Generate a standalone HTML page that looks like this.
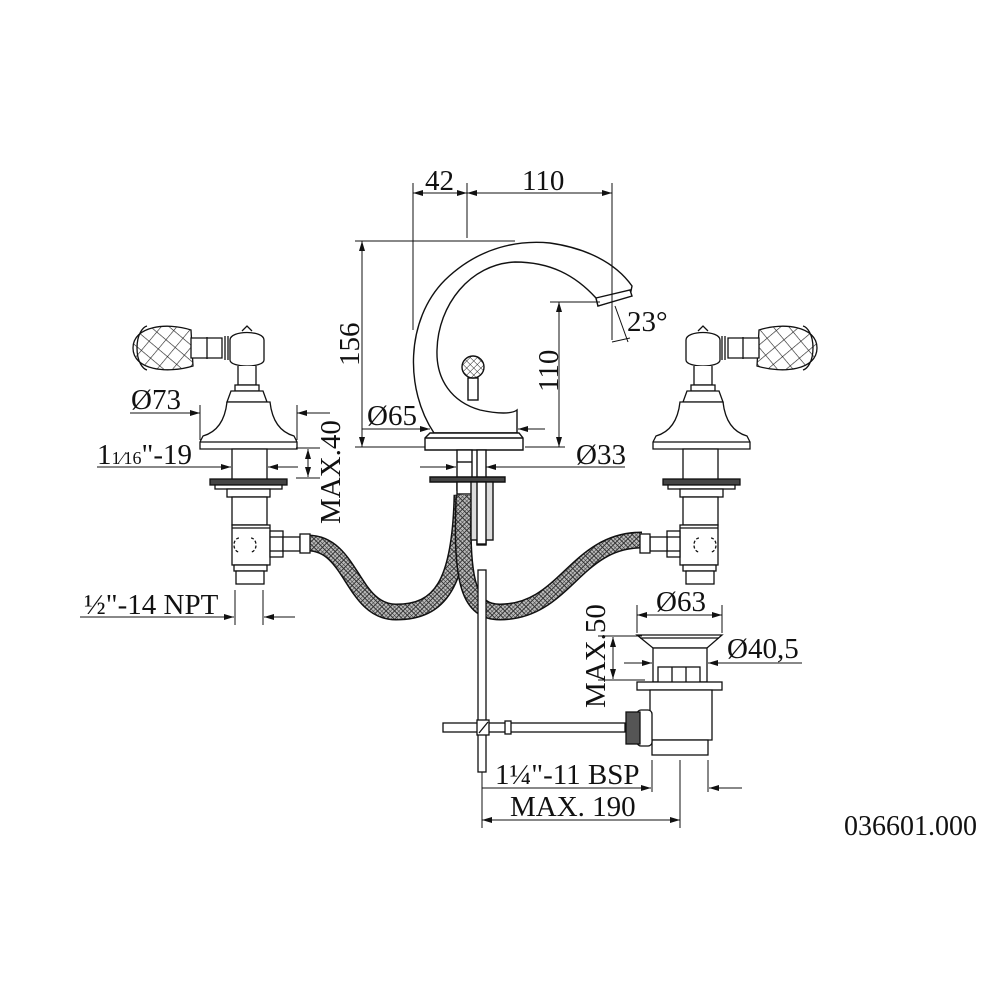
<!DOCTYPE html>
<html><head><meta charset="utf-8"><style>
html,body{margin:0;padding:0;background:#fff;}
svg{display:block;}
text{font-family:"Liberation Serif",serif;fill:#111;}
</style></head><body>
<svg width="1000" height="1000" viewBox="0 0 1000 1000" xmlns="http://www.w3.org/2000/svg">
<defs>
<pattern id="hatch" width="6" height="6" patternUnits="userSpaceOnUse" patternTransform="rotate(45)">
<rect width="6" height="6" fill="#bbb"/><path d="M0 0H6M0 3H6M0 0V6M3 0V6" stroke="#333" stroke-width="1"/>
</pattern>
<pattern id="cr" width="12" height="12" patternUnits="userSpaceOnUse" patternTransform="rotate(40)">
<rect width="12" height="12" fill="#fff"/><path d="M0 0H12M0 0V12" stroke="#222" stroke-width="1.2"/>
</pattern>
<pattern id="cr2" width="5" height="5" patternUnits="userSpaceOnUse" patternTransform="rotate(45)">
<rect width="5" height="5" fill="#fff"/><path d="M0 0H5M0 0V5" stroke="#222" stroke-width="1"/>
</pattern>
<marker id="a" viewBox="0 0 10 6" refX="10" refY="3" markerWidth="10" markerHeight="6" orient="auto-start-reverse" markerUnits="userSpaceOnUse"><path d="M0 0L10 3L0 6z" fill="#111"/></marker>
<g id="valve" fill="#fff" stroke="#111" stroke-width="1.3">
 <path d="M-114 348 C-114 326 -80 322 -56 330 L-54 366 C-80 374 -114 370 -114 348z" fill="url(#cr)"/>
 <path d="M-110 348 C-110 334 -104 327 -100 326 M-110 348 C-110 362 -104 369 -100 370" fill="none"/>
 <path d="M-56 338 L-25 338 L-25 358 L-56 358z"/>
 <line x1="-40" y1="337" x2="-40" y2="359"/><line x1="-22" y1="336" x2="-22" y2="360"/><line x1="-19" y1="336" x2="-19" y2="360"/>
 <path d="M-17 340 C-17 330 17 330 17 340 L17 360 C17 368 -17 368 -17 360z"/>
 <path d="M-5 331 L0 326 L5 331"/>
 <path d="M-9 366 L-9 385 L9 385 L9 366"/>
 <rect x="-12" y="385" width="24" height="6"/>
 <path d="M-16 391 L16 391 L20 402 L-20 402z"/>
 <path d="M-20 402 C-22 420 -30 432 -44 436 L-47 442 L-47 449 L50 449 L50 442 L47 436 C33 432 25 420 23 402z"/>
 <line x1="-47" y1="442" x2="50" y2="442"/>
 <rect x="-15" y="449" width="35" height="31"/>
 <rect x="-37" y="479" width="77" height="6" fill="#444"/>
 <rect x="-32" y="485" width="67" height="4"/>
 <rect x="-20" y="489" width="43" height="8"/>
 <rect x="-15" y="497" width="35" height="28"/>
 <rect x="-15" y="525" width="38" height="40"/>
 <line x1="-15" y1="528" x2="23" y2="528"/>
 <path d="M-8 538 a5 7 0 0 0 0 14 M4 538 a5 7 0 0 1 0 14" fill="none" stroke-dasharray="3 2"/>
 <rect x="-13" y="565" width="33" height="6"/>
 <rect x="-11" y="571" width="28" height="13"/>
 <rect x="23" y="531" width="13" height="26"/>
 <line x1="23" y1="537" x2="36" y2="537"/><line x1="23" y1="551" x2="36" y2="551"/>
 <rect x="36" y="537" width="17" height="14"/>
 <rect x="53" y="534" width="10" height="19"/>
</g>
</defs>

<g fill="none" stroke-linecap="butt">
<path d="M308 543 C352 543 352 612 396 612 C440 612 460 585 462 495" stroke="#111" stroke-width="17"/>
<path d="M308 543 C352 543 352 612 396 612 C440 612 460 585 462 495" stroke="url(#hatch)" stroke-width="14"/>
<path d="M464 495 C460 585 470 612 500 612 C565 612 575 540 642 540" stroke="#111" stroke-width="17"/>
<path d="M464 495 C460 585 470 612 500 612 C565 612 575 540 642 540" stroke="url(#hatch)" stroke-width="14"/>
</g>

<use href="#valve" transform="translate(247,0)"/>
<use href="#valve" transform="translate(703,0) scale(-1,1)"/>

<g fill="#fff" stroke="#111" stroke-width="1.4">
<path d="M434 433 C405 390 405 320 445 280 C480 246 520 240 550 243 C585 248 615 262 632 286 L630 296 L598 306 L596 298 C575 275 550 262 515 262 C470 264 438 305 437 350 C436 380 452 402 480 410 C498 414 512 414 517 410 L517 433z"/>
<path d="M596 298 L630 290 L632 296 L598 306z" fill="#fff"/>
<path d="M425 438 L430 433 L519 433 L523 438 L523 450 L425 450z"/>
<line x1="425" y1="438" x2="523" y2="438"/>
<rect x="468" y="378" width="10" height="22"/>
<circle cx="473" cy="367" r="11" fill="url(#cr2)"/>
<rect x="457" y="450" width="15" height="40"/>
<line x1="457" y1="462" x2="472" y2="462"/>
<rect x="477" y="450" width="9" height="95"/>
<path d="M430 477 L505 477 L505 482 L430 482z" fill="#444"/>
<rect x="457" y="482" width="15" height="12"/>
<rect x="471" y="482" width="22" height="58" fill="#ddd"/>
<rect x="477" y="482" width="9" height="62"/>
</g>

<g fill="#fff" stroke="#111" stroke-width="1.3">
<rect x="478" y="570" width="8" height="202"/>
<rect x="443" y="723" width="182" height="9"/>
<rect x="477" y="720" width="12" height="15"/>
<line x1="479" y1="733" x2="488" y2="722"/>
<rect x="505" y="721" width="6" height="13"/>
<path d="M637 635 L722 635 L707 648 L653 648z"/>
<line x1="640" y1="638" x2="719" y2="638"/>
<rect x="653" y="648" width="54" height="34"/>
<rect x="658" y="667" width="42" height="16"/>
<line x1="672" y1="667" x2="672" y2="683"/><line x1="686" y1="667" x2="686" y2="683"/>
<rect x="637" y="682" width="85" height="8"/>
<path d="M650 690 L712 690 L712 740 L650 740z"/>
<rect x="652" y="740" width="56" height="15"/>
<rect x="637" y="710" width="15" height="36" rx="4"/>
<rect x="626" y="712" width="14" height="32" fill="#555"/>
</g>

<g stroke="#111" stroke-width="1" fill="none">
<line x1="413" y1="183" x2="413" y2="330"/><line x1="467" y1="183" x2="467" y2="238"/><line x1="612" y1="183" x2="612" y2="340"/>
<line x1="413" y1="193" x2="467" y2="193" marker-start="url(#a)" marker-end="url(#a)"/>
<line x1="467" y1="193" x2="612" y2="193" marker-start="url(#a)" marker-end="url(#a)"/>
<line x1="355" y1="241" x2="515" y2="241"/>
<line x1="362" y1="241" x2="362" y2="447" marker-start="url(#a)" marker-end="url(#a)"/>
<line x1="355" y1="447" x2="425" y2="447"/>
<line x1="550" y1="302" x2="600" y2="302"/>
<line x1="559" y1="302" x2="559" y2="447" marker-start="url(#a)" marker-end="url(#a)"/>
<line x1="525" y1="447" x2="565" y2="447"/>
<line x1="615" y1="306" x2="628" y2="342"/><line x1="612" y1="342" x2="630" y2="338"/>
<line x1="362" y1="429" x2="430" y2="429" marker-end="url(#a)"/>
<line x1="545" y1="429" x2="518" y2="429" marker-end="url(#a)"/>
<line x1="420" y1="467" x2="456" y2="467" marker-end="url(#a)"/>
<line x1="625" y1="467" x2="486" y2="467" marker-end="url(#a)"/>
<line x1="130" y1="413" x2="200" y2="413" marker-end="url(#a)"/>
<line x1="200" y1="405" x2="200" y2="440"/>
<line x1="330" y1="413" x2="297" y2="413" marker-end="url(#a)"/>
<line x1="297" y1="405" x2="297" y2="440"/>
<line x1="97" y1="467" x2="231" y2="467" marker-end="url(#a)"/>
<line x1="298" y1="467" x2="268" y2="467" marker-end="url(#a)"/>
<line x1="296" y1="448" x2="320" y2="448"/><line x1="296" y1="478" x2="320" y2="478"/>
<line x1="308" y1="449" x2="308" y2="477" marker-start="url(#a)" marker-end="url(#a)"/>
<line x1="80" y1="617" x2="234" y2="617" marker-end="url(#a)"/>
<line x1="295" y1="617" x2="264" y2="617" marker-end="url(#a)"/>
<line x1="235" y1="590" x2="235" y2="625"/><line x1="263" y1="590" x2="263" y2="625"/>
<line x1="637" y1="605" x2="637" y2="633"/><line x1="722" y1="605" x2="722" y2="633"/>
<line x1="637" y1="615" x2="722" y2="615" marker-start="url(#a)" marker-end="url(#a)"/>
<line x1="624" y1="663" x2="652" y2="663" marker-end="url(#a)"/>
<line x1="802" y1="663" x2="708" y2="663" marker-end="url(#a)"/>
<line x1="598" y1="636" x2="642" y2="636"/><line x1="598" y1="680" x2="645" y2="680"/>
<line x1="613" y1="637" x2="613" y2="679" marker-start="url(#a)" marker-end="url(#a)"/>
<line x1="482" y1="772" x2="482" y2="828"/>
<line x1="652" y1="760" x2="652" y2="792"/>
<line x1="680" y1="760" x2="680" y2="828"/>
<line x1="708" y1="760" x2="708" y2="792"/>
<line x1="482" y1="788" x2="651" y2="788" marker-end="url(#a)"/>
<line x1="742" y1="788" x2="709" y2="788" marker-end="url(#a)"/>
<line x1="482" y1="820" x2="680" y2="820" marker-start="url(#a)" marker-end="url(#a)"/>
</g>

<g font-size="29">
<text x="425" y="190">42</text>
<text x="522" y="190">110</text>
<text transform="translate(359,366) rotate(-90)">156</text>
<text transform="translate(558,392) rotate(-90)">110</text>
<text x="627" y="331">23°</text>
<text x="367" y="425">Ø65</text>
<text x="576" y="464">Ø33</text>
<text x="131" y="409">Ø73</text>
<text x="97" y="464">1<tspan font-size="18">1⁄16</tspan>"-19</text>
<text transform="translate(340,524) rotate(-90)">MAX.40</text>
<text x="84" y="614">½"-14 NPT</text>
<text x="656" y="611">Ø63</text>
<text x="727" y="658">Ø40,5</text>
<text transform="translate(605,708) rotate(-90)">MAX.50</text>
<text x="495" y="784">1¼"-11 BSP</text>
<text x="510" y="816">MAX. 190</text>
<text x="844" y="835" font-size="28">036601.000</text>
</g>
</svg>
</body></html>
